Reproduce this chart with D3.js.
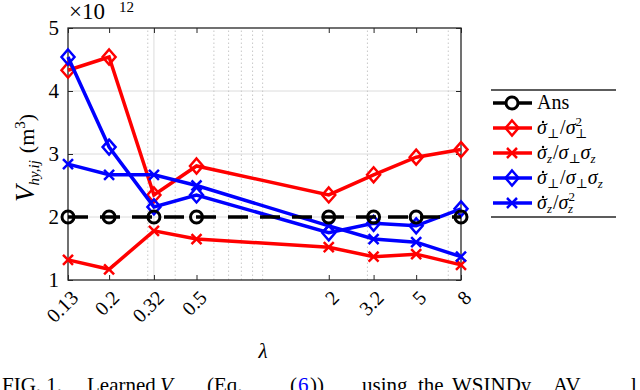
<!DOCTYPE html>
<html>
<head>
<meta charset="utf-8">
<script src="https://cdn.jsdelivr.net/npm/d3@7"></script>
<style>
  body { margin: 0; background: #fff; }
  svg { display: block; }
  text { font-family: "Liberation Serif", "DejaVu Serif", serif; fill: #000; }
</style>
</head>
<body>
<div class="container"></div>
<script>
// values (y in units of 1e12 m^3)
const lambdas = [0.13, 0.2, 0.32, 0.5, 2, 3.2, 5, 8];
const tickLabels = ["0.13", "0.2", "0.32", "0.5", "2", "3.2", "5", "8"];
const yTicks = [1, 2, 3, 4, 5];
const minorGrid = [0.3, 0.4, 0.6, 0.7, 0.8, 0.9, 1, 3, 7];
const majorGrid = [0.32];

const ansVals       = [2, 2, 2, 2, 2, 2, 2, 2];
const perpPerpVals  = [4.33, 4.54, 2.35, 2.81, 2.35, 2.67, 2.95, 3.07];
const zPerpZVals    = [1.32, 1.17, 1.78, 1.65, 1.52, 1.37, 1.41, 1.24];
const perpPerpZVals = [4.54, 3.11, 2.16, 2.35, 1.75, 1.90, 1.86, 2.13];
const zZVals        = [2.84, 2.67, 2.67, 2.50, 1.86, 1.65, 1.60, 1.37];

const width = 640, height = 390;
const svg = d3.select(".container").append("svg").attr("width", width).attr("height", height);

const x = d3.scaleLog().domain([0.13, 8]).range([68, 461]);
const y = d3.scaleLinear().domain([1, 5]).range([280, 28]);

// grid
const grid = svg.append("g").attr("class", "grid");
grid.selectAll(".hg").data([2, 3, 4]).enter().append("line")
    .attr("x1", x.range()[0]).attr("x2", x.range()[1])
    .attr("y1", d => y(d)).attr("y2", d => y(d))
    .attr("stroke", "#dcdcdc").attr("stroke-width", 1);
grid.selectAll(".vm").data(minorGrid).enter().append("line")
    .attr("x1", d => x(d)).attr("x2", d => x(d))
    .attr("y1", y(1)).attr("y2", y(5))
    .attr("stroke", "#c8c8c8").attr("stroke-width", 1).attr("stroke-dasharray", "1.5,2.5");
grid.selectAll(".vM").data(majorGrid).enter().append("line")
    .attr("x1", d => x(d)).attr("x2", d => x(d))
    .attr("y1", y(1)).attr("y2", y(5))
    .attr("stroke", "#dcdcdc").attr("stroke-width", 1);

// axes
const xAxis = svg.append("g").attr("transform", `translate(0,${y(1)})`)
    .call(d3.axisBottom(x).tickValues(lambdas).tickFormat((d, i) => tickLabels[i]).tickSize(-5).tickPadding(0));
xAxis.attr("font-family", null);
xAxis.select(".domain").remove();
xAxis.selectAll("line").attr("stroke", "#262626");
xAxis.selectAll("text")
    .attr("y", 0).attr("dy", 0)
    .attr("transform", "translate(11,19) rotate(-45)")
    .attr("text-anchor", "end")
    .style("font-size", "20px");

const xTop = svg.append("g").attr("transform", `translate(0,${y(5)})`)
    .call(d3.axisTop(x).tickValues(lambdas).tickFormat("").tickSize(-5));
xTop.select(".domain").remove();
xTop.selectAll("line").attr("stroke", "#262626");

const yAxis = svg.append("g").attr("transform", `translate(${x(0.13)},0)`)
    .call(d3.axisLeft(y).tickValues(yTicks).tickFormat(d3.format("d")).tickSize(-5).tickPadding(9));
yAxis.attr("font-family", null);
yAxis.select(".domain").remove();
yAxis.selectAll("line").attr("stroke", "#262626");
yAxis.selectAll("text").style("font-size", "21px");

const yRight = svg.append("g").attr("transform", `translate(${x(8)},0)`)
    .call(d3.axisRight(y).tickValues(yTicks).tickFormat("").tickSize(-5));
yRight.select(".domain").remove();
yRight.selectAll("line").attr("stroke", "#262626");

svg.append("rect")
    .attr("x", x(0.13)).attr("y", y(5))
    .attr("width", x(8) - x(0.13)).attr("height", y(1) - y(5))
    .attr("fill", "none").attr("stroke", "#262626").attr("stroke-width", 1.3);

// series
const series = [
  { name: "perpPerp", vals: perpPerpVals, color: "#ff0000", marker: "diamond" },
  { name: "zPerpZ", vals: zPerpZVals, color: "#ff0000", marker: "cross" },
  { name: "perpPerpZ", vals: perpPerpZVals, color: "#0000ff", marker: "diamond" },
  { name: "zZ", vals: zZVals, color: "#0000ff", marker: "cross" },
  { name: "ans", vals: ansVals, color: "#000000", marker: "circle", dash: "20,12" }
];

const line = d3.line().x(d => x(d[0])).y(d => y(d[1]));

const drawMarker = (g, kind, color, cx, cy) => {
  if (kind === "diamond") {
    g.append("path").attr("d", `M${cx},${cy - 7.5}L${cx + 6.5},${cy}L${cx},${cy + 7.5}L${cx - 6.5},${cy}Z`)
      .attr("fill", "none").attr("stroke", color).attr("stroke-width", 2.5);
  } else if (kind === "cross") {
    g.append("path").attr("d", `M${cx - 5},${cy - 5}L${cx + 5},${cy + 5}M${cx - 5},${cy + 5}L${cx + 5},${cy - 5}`)
      .attr("fill", "none").attr("stroke", color).attr("stroke-width", 2.5);
  } else {
    g.append("circle").attr("cx", cx).attr("cy", cy).attr("r", 6)
      .attr("fill", "none").attr("stroke", color).attr("stroke-width", 3);
  }
};

series.forEach(s => {
  const g = svg.append("g").attr("class", s.name);
  const pts = lambdas.map((l, i) => [l, s.vals[i]]);
  g.append("path").attr("d", line(pts))
    .attr("fill", "none").attr("stroke", s.color).attr("stroke-width", 3.5)
    .attr("stroke-dasharray", s.dash || null);
  pts.forEach(p => drawMarker(g, s.marker, s.color, x(p[0]), y(p[1])));
});

// exponent label
svg.append("text").attr("x", 69).attr("y", 19).style("font-size", "23px").text("×10");
svg.append("text").attr("x", 119).attr("y", 12).style("font-size", "15px").text("12");

// y label
const yl = svg.append("text")
    .attr("transform", "translate(34,158) rotate(-90)")
    .attr("text-anchor", "middle").style("font-size", "22px");
yl.append("tspan").style("font-style", "italic").style("font-size", "27px").text("V");
yl.append("tspan").attr("dy", 5).style("font-style", "italic").style("font-size", "15px").text("hy,ij");
yl.append("tspan").attr("dy", -5).attr("dx", 7).text("(m");
yl.append("tspan").attr("dy", -9).style("font-size", "15px").text("3");
yl.append("tspan").attr("dy", 9).text(")");

// x label
svg.append("text").attr("x", 263).attr("y", 358).attr("text-anchor", "middle")
    .style("font-style", "italic").style("font-size", "21px").text("λ");

// legend
const legendNames = [
  { key: "ans", color: "#000", marker: "circle", main: "Ans" },
  { key: "perpPerp", color: "#ff0000", marker: "diamond", num: "⊥", denSub: "⊥", denSup: "2" },
  { key: "zPerpZ", color: "#ff0000", marker: "cross", num: "z", denSub: "⊥", den2: "z" },
  { key: "perpPerpZ", color: "#0000ff", marker: "diamond", num: "⊥", denSub: "⊥", den2: "z" },
  { key: "zZ", color: "#0000ff", marker: "cross", num: "z", denSub: "z", denSup: "2" }
];
const leg = svg.append("g").attr("class", "legend");
leg.append("line").attr("x1", 491).attr("x2", 616).attr("y1", 90).attr("y2", 90).attr("stroke", "#262626").attr("stroke-width", 1.3);
leg.append("line").attr("x1", 491).attr("x2", 616).attr("y1", 217).attr("y2", 217).attr("stroke", "#262626").attr("stroke-width", 1.3);

const subStyle = (ts, s) => ts.style("font-size", "13px").style("font-style", s === "z" ? "italic" : "normal").text(s);

legendNames.forEach((d, i) => {
  const cy = 103 + i * 25;
  const g = leg.append("g");
  if (d.key === "ans") {
    g.append("line").attr("x1", 493).attr("x2", 505).attr("y1", cy).attr("y2", cy).attr("stroke", d.color).attr("stroke-width", 3.5);
    g.append("line").attr("x1", 519).attr("x2", 532).attr("y1", cy).attr("y2", cy).attr("stroke", d.color).attr("stroke-width", 3.5);
  } else {
    g.append("line").attr("x1", 493).attr("x2", 532).attr("y1", cy).attr("y2", cy).attr("stroke", d.color).attr("stroke-width", 3.5);
  }
  drawMarker(g, d.marker, d.color, 512, cy);
  const t = g.append("text").attr("x", 537).attr("y", cy + 6).style("font-size", "20px");
  if (d.main) {
    t.text(d.main);
  } else {
    // dot over the leading sigma
    g.append("circle").attr("cx", 543).attr("cy", cy - 6).attr("r", 1.2).attr("fill", "#000");
    t.append("tspan").style("font-style", "italic").text("σ");
    subStyle(t.append("tspan").attr("dy", 4), d.num);
    t.append("tspan").attr("dy", -4).attr("dx", 1).text("/");
    t.append("tspan").style("font-style", "italic").text("σ");
    if (d.denSup) {
      t.append("tspan").attr("dy", -8).style("font-size", "13px").text(d.denSup);
      subStyle(t.append("tspan").attr("dy", 12).attr("dx", -7), d.denSub);
    } else {
      subStyle(t.append("tspan").attr("dy", 4), d.denSub);
      t.append("tspan").attr("dy", -4).style("font-style", "italic").text("σ");
      subStyle(t.append("tspan").attr("dy", 4), d.den2);
    }
  }
});

// caption (cut by the bottom edge)
const capWords = [
  { x: 2, t: "FIG. 1." },
  { x: 87, t: "Learned" },
  { x: 160, t: "V", italic: true },
  { x: 207, t: "(Eq." },
  { x: 290, t: "(" },
  { x: 298, t: "6", blue: true },
  { x: 310, t: "))" },
  { x: 362, t: "using" },
  { x: 418, t: "the" },
  { x: 452, t: "WSINDy" },
  { x: 553, t: "AV" },
  { x: 631, t: "l" }
];
const cap = svg.append("text").attr("y", 392).style("font-size", "21px");
capWords.forEach(w => {
  cap.append("tspan").attr("x", w.x)
    .style("font-style", w.italic ? "italic" : "normal")
    .style("fill", w.blue ? "#0000ff" : "#000")
    .text(w.t);
});
</script>
</body>
</html>
